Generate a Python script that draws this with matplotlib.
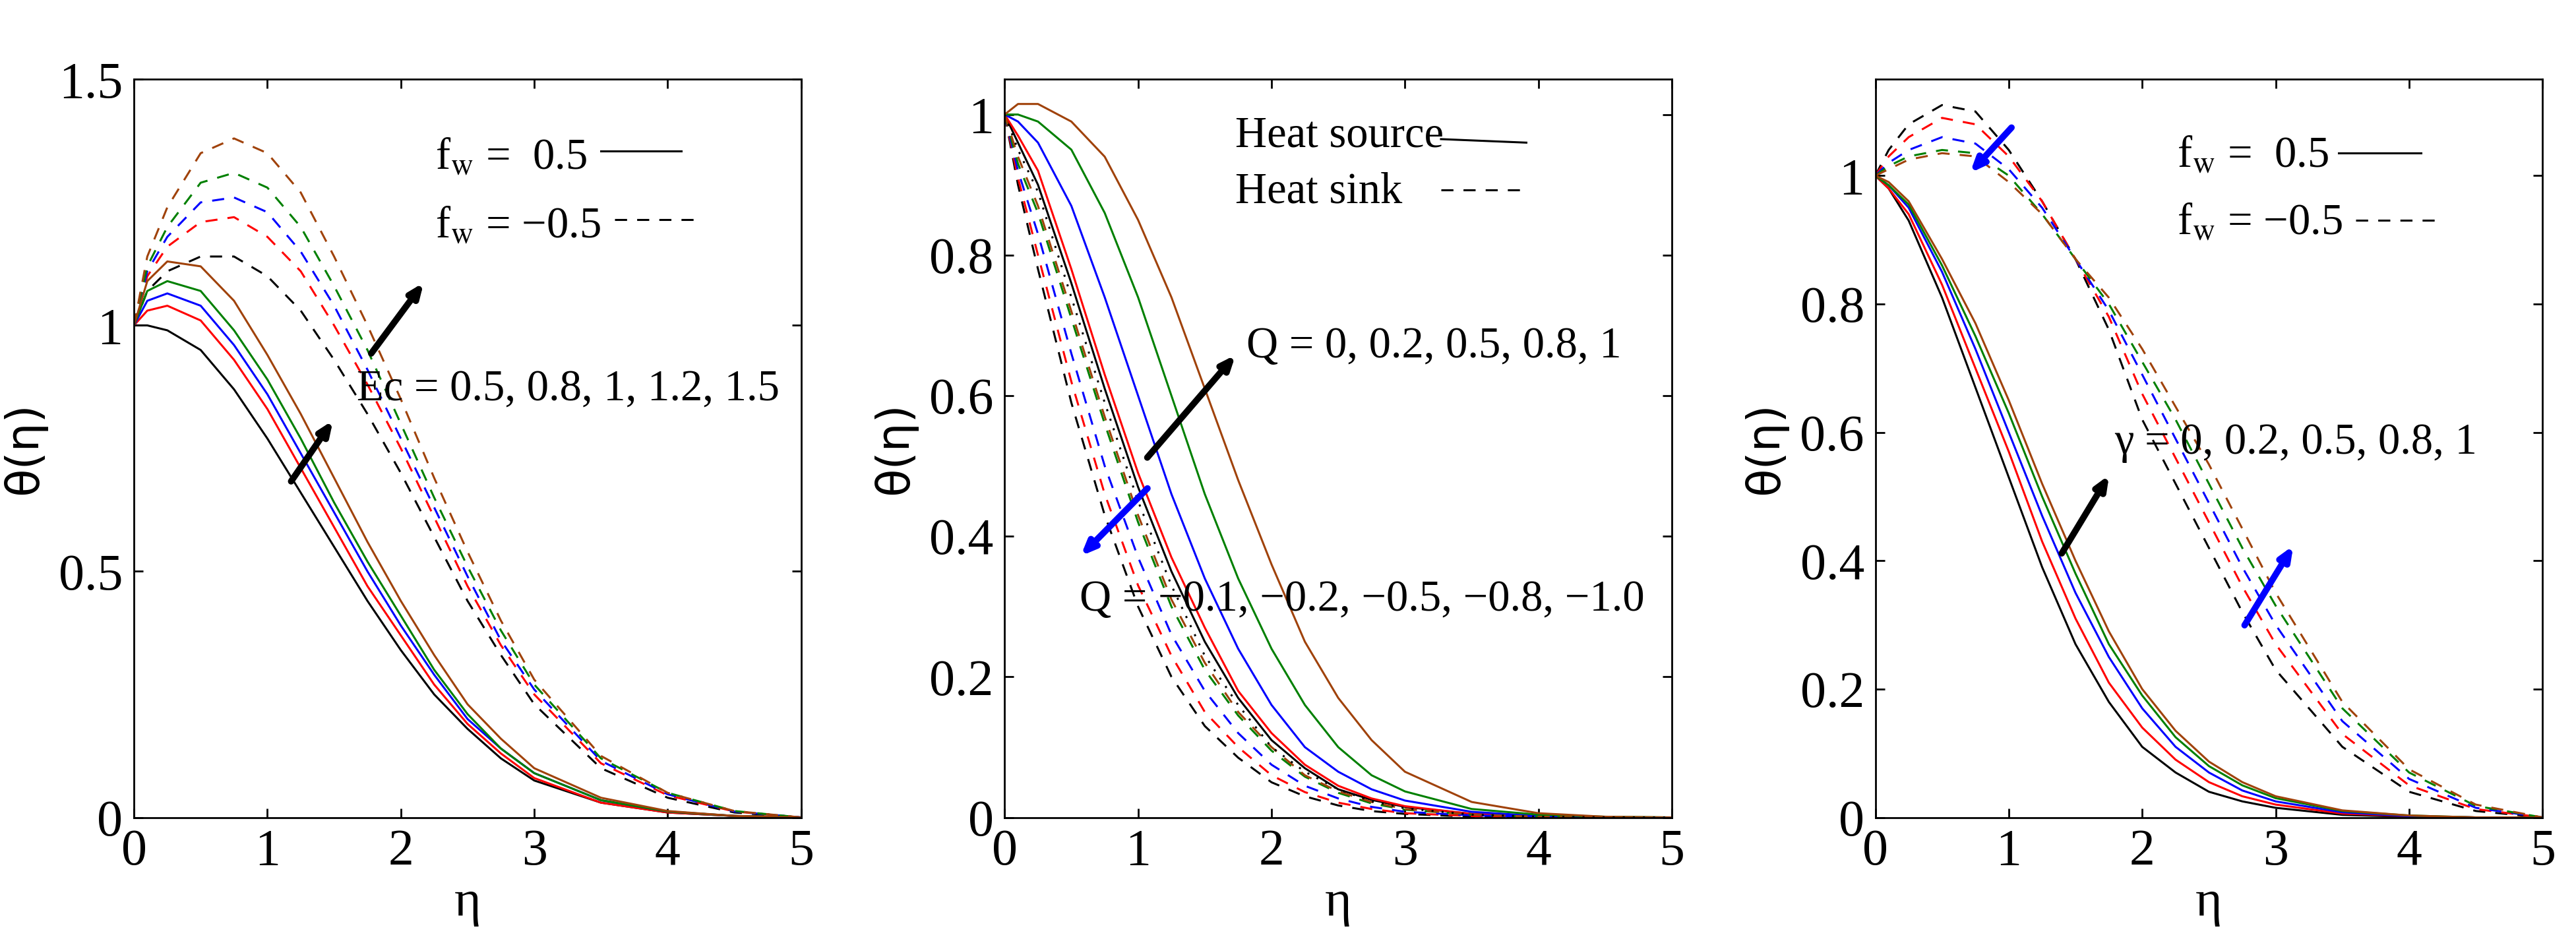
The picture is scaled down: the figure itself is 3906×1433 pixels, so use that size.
import matplotlib
matplotlib.use("Agg")
import matplotlib.pyplot as plt

plt.rcParams["font.family"] = ["Liberation Serif", "DejaVu Serif"]
plt.rcParams["mathtext.fontset"] = "stix"

eta = [0, 0.1, 0.25, 0.5, 0.75, 1, 1.25, 1.5, 1.75, 2, 2.25, 2.5, 2.75, 3, 3.5, 4, 4.5, 5]
colors = ["black", "red", "blue", "green", "#a0420a"]

# panel 1: Ec = 0.5, 0.8, 1, 1.2, 1.5
ec_solid = [
    [1.0, 1.0, 0.99, 0.95, 0.87, 0.77, 0.66, 0.55, 0.44, 0.34, 0.25, 0.18, 0.12, 0.075, 0.03, 0.01, 0.003, 0],
    [1.0, 1.03, 1.04, 1.01, 0.93, 0.83, 0.71, 0.59, 0.47, 0.37, 0.27, 0.19, 0.13, 0.08, 0.03, 0.01, 0.003, 0],
    [1.0, 1.05, 1.065, 1.04, 0.96, 0.86, 0.74, 0.62, 0.50, 0.39, 0.29, 0.20, 0.14, 0.09, 0.035, 0.012, 0.003, 0],
    [1.0, 1.07, 1.09, 1.07, 0.99, 0.89, 0.77, 0.64, 0.52, 0.41, 0.30, 0.21, 0.14, 0.09, 0.035, 0.012, 0.003, 0],
    [1.0, 1.09, 1.13, 1.12, 1.05, 0.94, 0.82, 0.69, 0.56, 0.44, 0.33, 0.23, 0.16, 0.10, 0.04, 0.013, 0.003, 0],
]
ec_dash = [
    [1.0, 1.07, 1.11, 1.14, 1.14, 1.10, 1.03, 0.93, 0.82, 0.70, 0.57, 0.44, 0.33, 0.23, 0.10, 0.04, 0.01, 0],
    [1.0, 1.10, 1.16, 1.21, 1.22, 1.18, 1.11, 1.00, 0.88, 0.75, 0.61, 0.47, 0.35, 0.25, 0.11, 0.045, 0.012, 0],
    [1.0, 1.11, 1.18, 1.25, 1.26, 1.23, 1.15, 1.04, 0.91, 0.77, 0.63, 0.49, 0.36, 0.26, 0.115, 0.047, 0.012, 0],
    [1.0, 1.12, 1.20, 1.29, 1.31, 1.28, 1.20, 1.08, 0.95, 0.80, 0.65, 0.51, 0.38, 0.27, 0.12, 0.05, 0.013, 0],
    [1.0, 1.14, 1.24, 1.35, 1.38, 1.35, 1.27, 1.14, 1.00, 0.85, 0.69, 0.54, 0.40, 0.28, 0.125, 0.05, 0.013, 0],
]

# panel 2: heat source / sink
q_source = [
    [1.0, 0.96, 0.90, 0.76, 0.61, 0.47, 0.35, 0.25, 0.17, 0.11, 0.07, 0.04, 0.025, 0.015, 0.005, 0.001, 0, 0],
    [1.0, 0.97, 0.92, 0.78, 0.63, 0.49, 0.37, 0.27, 0.18, 0.12, 0.075, 0.045, 0.027, 0.016, 0.005, 0.001, 0, 0],
    [1.0, 0.99, 0.96, 0.87, 0.74, 0.60, 0.46, 0.34, 0.24, 0.16, 0.10, 0.065, 0.04, 0.024, 0.008, 0.002, 0, 0],
    [1.0, 1.0, 0.99, 0.95, 0.86, 0.74, 0.60, 0.46, 0.34, 0.24, 0.16, 0.10, 0.06, 0.037, 0.012, 0.004, 0.001, 0],
    [1.0, 1.015, 1.015, 0.99, 0.94, 0.85, 0.74, 0.61, 0.48, 0.36, 0.25, 0.17, 0.11, 0.065, 0.022, 0.006, 0.001, 0],
]
q_dotted = [1.0, 0.95, 0.89, 0.74, 0.59, 0.45, 0.33, 0.23, 0.16, 0.10, 0.065, 0.04, 0.023, 0.013, 0.004, 0.001, 0, 0]
q_sink = [
    [1.0, 0.90, 0.78, 0.59, 0.43, 0.30, 0.20, 0.13, 0.085, 0.05, 0.03, 0.017, 0.009, 0.005, 0.001, 0, 0, 0],
    [1.0, 0.91, 0.80, 0.62, 0.46, 0.33, 0.23, 0.15, 0.10, 0.06, 0.036, 0.021, 0.012, 0.006, 0.002, 0, 0, 0],
    [1.0, 0.92, 0.83, 0.66, 0.50, 0.37, 0.26, 0.18, 0.12, 0.075, 0.045, 0.027, 0.015, 0.008, 0.003, 0.001, 0, 0],
    [1.0, 0.93, 0.86, 0.71, 0.56, 0.42, 0.30, 0.21, 0.145, 0.095, 0.058, 0.035, 0.02, 0.011, 0.004, 0.001, 0, 0],
    [1.0, 0.94, 0.87, 0.72, 0.57, 0.43, 0.31, 0.22, 0.15, 0.10, 0.06, 0.037, 0.022, 0.012, 0.004, 0.001, 0, 0],
]

# panel 3: gamma = 0, 0.2, 0.5, 0.8, 1
g_solid = [
    [1.0, 0.98, 0.93, 0.81, 0.67, 0.53, 0.39, 0.27, 0.18, 0.11, 0.07, 0.04, 0.025, 0.015, 0.004, 0.001, 0, 0],
    [1.0, 0.98, 0.94, 0.83, 0.70, 0.57, 0.43, 0.31, 0.21, 0.14, 0.09, 0.055, 0.033, 0.02, 0.006, 0.002, 0, 0],
    [1.0, 0.985, 0.95, 0.85, 0.73, 0.60, 0.47, 0.35, 0.25, 0.17, 0.11, 0.07, 0.042, 0.025, 0.008, 0.002, 0, 0],
    [1.0, 0.985, 0.955, 0.86, 0.75, 0.63, 0.50, 0.38, 0.27, 0.19, 0.125, 0.08, 0.05, 0.03, 0.01, 0.003, 0, 0],
    [1.0, 0.99, 0.96, 0.87, 0.77, 0.65, 0.52, 0.40, 0.29, 0.20, 0.135, 0.087, 0.055, 0.033, 0.011, 0.003, 0, 0],
]
g_dash = [
    [1.0, 1.04, 1.08, 1.11, 1.10, 1.04, 0.96, 0.87, 0.76, 0.62, 0.52, 0.42, 0.32, 0.23, 0.11, 0.04, 0.01, 0],
    [1.0, 1.03, 1.06, 1.09, 1.08, 1.03, 0.96, 0.87, 0.78, 0.66, 0.56, 0.46, 0.36, 0.27, 0.13, 0.05, 0.013, 0],
    [1.0, 1.02, 1.04, 1.06, 1.05, 1.01, 0.95, 0.87, 0.79, 0.69, 0.59, 0.49, 0.39, 0.30, 0.15, 0.06, 0.015, 0],
    [1.0, 1.015, 1.03, 1.04, 1.035, 1.0, 0.94, 0.87, 0.80, 0.71, 0.62, 0.52, 0.42, 0.33, 0.17, 0.07, 0.018, 0],
    [1.0, 1.01, 1.025, 1.035, 1.03, 0.99, 0.94, 0.87, 0.81, 0.73, 0.64, 0.55, 0.45, 0.35, 0.18, 0.075, 0.02, 0],
]

FS = 48       # annotation text
TFS = 56      # ticks and axis labels
DASH = (0, (6, 5))
fig = plt.figure(figsize=(39.06, 14.33), dpi=100)
lefts = [0.052, 0.390, 0.728]
axes = [fig.add_axes([l, 0.135, 0.259, 0.781]) for l in lefts]


def style(ax, ymax, yticks, ylabels):
    ax.set_xlim(0, 5)
    ax.set_ylim(0, ymax)
    ax.set_xticks(range(6))
    ax.set_yticks(yticks)
    ax.set_yticklabels(ylabels)
    ax.tick_params(direction="in", top=True, right=True, labelsize=TFS, length=10, width=2, pad=12)
    for s in ax.spines.values():
        s.set_linewidth(2)
    ax.set_xlabel("η", fontsize=TFS, labelpad=4)
    ax.set_ylabel("θ(η)", fontsize=TFS - 6, family="DejaVu Sans", labelpad=14)


def arrow(ax, x0, y0, x1, y1, c):
    ax.annotate("", xy=(x1, y1), xytext=(x0, y0),
                arrowprops=dict(arrowstyle="-|>,head_length=1.2,head_width=0.5", color=c, lw=7))


LW = 2.2
ax = axes[0]
for c, s, d in zip(colors, ec_solid, ec_dash):
    ax.plot(eta, s, color=c, lw=LW)
    ax.plot(eta, d, color=c, lw=LW, linestyle=DASH)
style(ax, 1.5, [0, 0.5, 1, 1.5], ["0", "0.5", "1", "1.5"])
arrow(ax, 1.17, 0.68, 1.50, 0.81, "black")
arrow(ax, 1.77, 0.94, 2.18, 1.09, "black")
ax.text(1.67, 0.87, "Ec = 0.5, 0.8, 1, 1.2, 1.5", fontsize=FS, va="center")
ax.text(2.26, 1.34, r"f$_{\rm w}$ =  0.5", fontsize=FS, va="center")
ax.text(2.26, 1.20, r"f$_{\rm w}$ = −0.5", fontsize=FS, va="center")
ax.plot([3.5, 4.1], [1.355, 1.355], color="black", lw=LW)
ax.plot([3.6, 4.2], [1.215, 1.215], color="black", lw=LW, linestyle=DASH)

ax = axes[1]
for c, s, d in zip(colors, q_source, q_sink):
    ax.plot(eta, s, color=c, lw=LW)
    ax.plot(eta, d, color=c, lw=LW, linestyle=DASH)
ax.plot(eta, q_dotted, color="black", lw=LW, linestyle=(0, (1, 4)))
style(ax, 1.05, [0, 0.2, 0.4, 0.6, 0.8, 1], ["0", "0.2", "0.4", "0.6", "0.8", "1"])
arrow(ax, 1.06, 0.51, 1.74, 0.66, "black")
arrow(ax, 1.08, 0.47, 0.56, 0.37, "blue")
ax.text(1.81, 0.67, "Q = 0, 0.2, 0.5, 0.8, 1", fontsize=FS, va="center")
ax.text(0.56, 0.31, "Q = −0.1, −0.2, −0.5, −0.8, −1.0", fontsize=FS, va="center")
ax.text(1.73, 0.97, "Heat source", fontsize=FS, va="center")
ax.text(1.73, 0.89, "Heat sink", fontsize=FS, va="center")
ax.plot([3.27, 3.91], [0.965, 0.96], color="black", lw=LW)
ax.plot([3.27, 3.91], [0.893, 0.893], color="black", lw=LW, linestyle=DASH)

ax = axes[2]
for c, s, d in zip(colors, g_solid, g_dash):
    ax.plot(eta, s, color=c, lw=LW)
    ax.plot(eta, d, color=c, lw=LW, linestyle=DASH)
style(ax, 1.15, [0, 0.2, 0.4, 0.6, 0.8, 1], ["0", "0.2", "0.4", "0.6", "0.8", "1"])
arrow(ax, 1.03, 1.077, 0.70, 1.002, "blue")
arrow(ax, 1.39, 0.409, 1.76, 0.536, "black")
arrow(ax, 2.76, 0.297, 3.14, 0.426, "blue")
ax.text(1.79, 0.584, "γ = 0, 0.2, 0.5, 0.8, 1", fontsize=FS, va="center")
ax.text(2.26, 1.03, r"f$_{\rm w}$ =  0.5", fontsize=FS, va="center")
ax.text(2.26, 0.925, r"f$_{\rm w}$ = −0.5", fontsize=FS, va="center")
ax.plot([3.47, 4.09], [1.035, 1.035], color="black", lw=LW)
ax.plot([3.6, 4.2], [0.93, 0.93], color="black", lw=LW, linestyle=DASH)

fig.savefig("out.png", dpi=100)
